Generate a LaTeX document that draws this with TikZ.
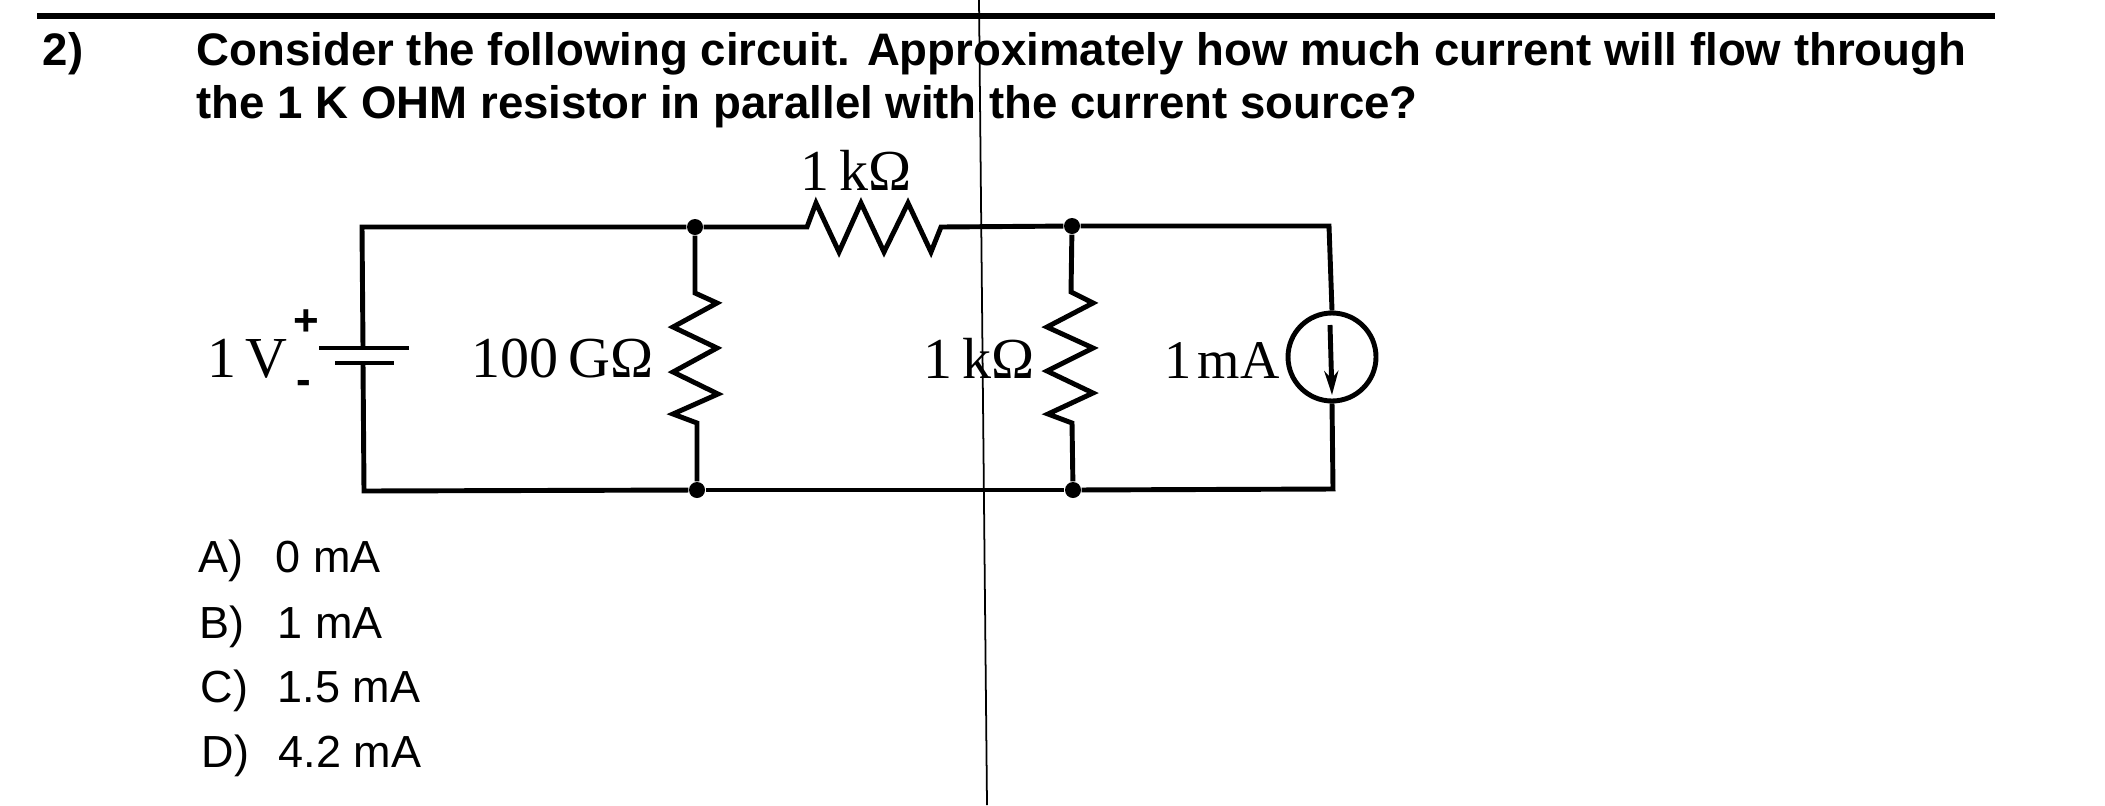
\documentclass[tikz,border=0pt]{standalone}
\usepackage{fontspec}
\setmainfont{Liberation Sans}
\newfontfamily\circfont{Liberation Serif}
\usetikzlibrary{arrows.meta}

\begin{document}
\begin{tikzpicture}[x=1cm,y=-1cm,
		                    wire/.style={line width=1.4pt,line join=miter},
		                    dot/.style={circle,fill=black,inner sep=0pt,minimum size=0.16cm},
		                    head/.style={anchor=base west,inner sep=0pt,font=\fontsize{12.97}{15}\selectfont\bfseries},
		                    answer/.style={anchor=base west,inner sep=0pt,font=\fontsize{12.8}{15}\selectfont},
		                    sign/.style={anchor=base,inner sep=0pt,font=\fontsize{12.5}{14}\selectfont\bfseries},
		                    val/.style={anchor=base,inner sep=0pt,font=\fontsize{16.5}{19}\selectfont\circfont}]
			\useasboundingbox (0,0) rectangle (21.05,8.05);

			% Question
			\coordinate (ruleL) at (0.37,0.16);
			\coordinate (ruleR) at (19.95,0.16);
			\draw[line width=1.6pt] (ruleL) -- (ruleR);
			\node[head] (num) at (0.42,0.65) {2)};
			\node[head] (line1) at (1.96,0.65) {Consider the following circuit. Approximately how much current will flow through};
			\node[head] (line2) at (1.96,1.18) {the 1 K OHM resistor in parallel with the current source?};

			% Scan line
			\coordinate (scanT) at (9.79,0);
			\coordinate (scanB) at (9.87,8.05);
			\draw[line width=0.5pt] (scanT) -- (scanB);

			% Junctions and corners
			\node[dot] (J1) at (6.95,2.27) {};
			\node[dot] (J2) at (10.72,2.26) {};
			\node[dot] (J3) at (6.97,4.90) {};
			\node[dot] (J4) at (10.73,4.90) {};
			\coordinate (TL) at (3.62,2.27);
			\coordinate (BL) at (3.64,4.91);
			\coordinate (TR) at (13.29,2.26);
			\coordinate (BR) at (13.33,4.89);

			% Battery
			\coordinate (batP) at (3.63,3.48);
			\coordinate (batN) at (3.63,3.63);
			\coordinate (plateA) at (3.19,3.48);
			\coordinate (plateB) at (4.09,3.48);
			\coordinate (plateC) at (3.35,3.63);
			\coordinate (plateD) at (3.94,3.63);
			\draw[wire] (plateA) -- (plateB);
			\draw[wire] (plateC) -- (plateD);
			\draw[wire] (batP) -- (TL) -- (J1);
			\draw[wire] (batN) -- (BL) -- (J3);
			\draw[wire] (J3) -- (J4);
			\node[sign] (plus) at (3.06,3.35) {+};
			\node[sign] (minus) at (3.04,3.94) {-};
			\node[val] (V) at (2.475,3.77) {1\,V};

			% Top resistor
			\coordinate (R1a) at (8.07,2.27);
			\coordinate (R1b) at (9.41,2.27);
			\draw[wire] (J1) -- (R1a) -- (8.16,2.03) -- (8.39,2.52) -- (8.61,2.03) -- (8.84,2.52) -- (9.08,2.03) -- (9.31,2.52) -- (R1b) -- (J2);
			\node[val] (R1) at (8.56,1.90) {1\,kΩ};

			% 100 G resistor
			\coordinate (R2a) at (6.95,2.93);
			\coordinate (R2b) at (6.97,4.23);
			\draw[wire] (J1) -- (R2a) -- (7.17,3.03) -- (6.73,3.27) -- (7.17,3.48) -- (6.73,3.72) -- (7.18,3.94) -- (6.73,4.14) -- (R2b) -- (J3);
			\node[val] (R2) at (5.625,3.77) {100\,GΩ};

			% Parallel resistor
			\coordinate (R3a) at (10.71,2.92);
			\coordinate (R3b) at (10.72,4.23);
			\draw[wire] (J2) -- (R3a) -- (10.93,3.03) -- (10.47,3.27) -- (10.93,3.48) -- (10.47,3.71) -- (10.93,3.93) -- (10.48,4.14) -- (R3b) -- (J4);
			\node[val] (R3) at (9.79,3.78) {1\,kΩ};

			% Current source
			\node[circle,draw,line width=1.4pt,inner sep=0pt,minimum size=0.88cm] (Is) at (13.32,3.57) {};
			\draw[wire] (J2) -- (TR) -- (Is.north);
			\draw[wire] (Is.south) -- (BR) -- (J4);
			\coordinate (IsT) at (13.30,3.25);
			\coordinate (IsB) at (13.32,3.95);
			\draw[wire,-{Stealth[length=0.24cm,width=0.14cm]}] (IsT) -- (IsB);
			\node[val] (I) at (12.22,3.78) {\fontsize{15.5}{19}\selectfont 1\kern0.12em mA};

			% Answers
			\node[answer] (optA) at (1.98,5.72) {A)};
			\node[answer] (valA) at (2.75,5.72) {0 mA};
			\node[answer] (optB) at (1.99,6.38) {B)};
			\node[answer] (valB) at (2.77,6.38) {1 mA};
			\node[answer] (optC) at (2.00,7.02) {C)};
			\node[answer] (valC) at (2.77,7.02) {1.5 mA};
			\node[answer] (optD) at (2.01,7.67) {D)};
			\node[answer] (valD) at (2.78,7.67) {4.2 mA};
		\end{tikzpicture}
\end{document}
